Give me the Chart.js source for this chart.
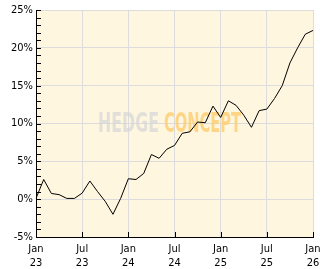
<!DOCTYPE html>
<html>
<head>
<meta charset="utf-8">
<script src="https://cdn.jsdelivr.net/npm/chart.js@4"></script>
<style>
    html, body { margin: 0; padding: 0; background: #fff; }
    #perfChart { display: block; }
</style>
</head>
<body>
<canvas id="perfChart" width="332" height="269"></canvas>
<script>
const monthNames = ['Jan', 'Feb', 'Mar', 'Apr', 'May', 'Jun', 'Jul', 'Aug', 'Sep', 'Oct', 'Nov', 'Dec'];
const years = ['23', '24', '25', '26'];

// cumulative performance, %, one point per month from Jan 23 to Jan 26
const performance = [
    0.1, 2.6, 0.75, 0.6, 0.1, 0.1, 0.8, 2.4, 1.0, -0.3, -2.0, 0.1,
    2.7, 2.6, 3.4, 5.9, 5.4, 6.6, 7.1, 8.7, 8.9, 10.2, 10.1, 12.3,
    10.8, 13.0, 12.4, 11.1, 9.5, 11.7, 11.9, 13.3, 15.0, 18.0, 20.0, 21.8,
    22.3
];

const yTicks = [-5, 0, 5, 10, 15, 20, 25];
const yMinorStep = 1;
const xLabelEvery = 6;

const months = performance.map((v, i) => monthNames[i % 12] + ' ' + years[Math.floor(i / 12)]);

const tickFont = { family: "'Liberation Sans Narrow', 'DejaVu Sans Condensed', 'Liberation Sans'", size: 11, lineHeight: 1.2 };

// cream plot background
const plotBackground = {
    id: 'plotBackground',
    beforeDraw(chart) {
        const { ctx, chartArea } = chart;
        ctx.save();
        ctx.fillStyle = '#fff6df';
        ctx.fillRect(chartArea.left, chartArea.top, chartArea.right - chartArea.left, chartArea.bottom - chartArea.top);
        ctx.restore();
    }
};

// HEDGE CONCEPT watermark, under the line
const watermark = {
    id: 'watermark',
    beforeDatasetsDraw(chart) {
        const { ctx, chartArea } = chart;
        const cx = (chartArea.left + chartArea.right) / 2 - 5;
        const cy = (chartArea.top + chartArea.bottom) / 2 + 1;
        ctx.save();
        ctx.font = "bold 27px 'Liberation Sans Narrow', 'DejaVu Sans Condensed', 'Liberation Sans'";
        ctx.textBaseline = 'middle';
        const w1 = ctx.measureText('HEDGE').width;
        const w2 = ctx.measureText('CONCEPT').width;
        const target1 = 61, target2 = 77, gap = 5;
        const total = target1 + gap + target2;
        const x0 = cx - total / 2;

        ctx.save();
        ctx.translate(x0, cy);
        ctx.scale(target1 / w1, 1);
        ctx.fillStyle = 'rgba(215, 215, 215, 0.75)';
        ctx.fillText('HEDGE', 0, 0);
        ctx.restore();

        ctx.save();
        ctx.translate(x0 + target1 + gap, cy);
        ctx.scale(target2 / w2, 1);
        ctx.fillStyle = 'rgba(253, 205, 110, 0.8)';
        ctx.fillText('CONCEPT', 0, 0);
        ctx.restore();

        ctx.restore();
    }
};

// ticks pointing into the plot, with minor ticks on the y axis
const innerTicks = {
    id: 'innerTicks',
    afterDatasetsDraw(chart) {
        const { ctx, chartArea, scales } = chart;
        ctx.save();
        ctx.strokeStyle = '#000';
        ctx.lineWidth = 1;
        ctx.beginPath();
        for (let v = yTicks[0]; v <= yTicks[yTicks.length - 1]; v += yMinorStep) {
            const y = Math.round(scales.y.getPixelForValue(v)) + 0.5;
            ctx.moveTo(chartArea.left, y);
            ctx.lineTo(chartArea.left + 5, y);
        }
        months.forEach((m, i) => {
            if (i % xLabelEvery !== 0) return;
            const x = Math.round(scales.x.getPixelForValue(i)) + 0.5;
            ctx.moveTo(x, chartArea.bottom);
            ctx.lineTo(x, chartArea.bottom - 5);
        });
        ctx.stroke();
        ctx.restore();
    }
};

const context = document.getElementById('perfChart').getContext('2d');

new Chart(context, {
    type: 'line',
    data: {
        labels: months,
        datasets: [{
            data: performance,
            borderColor: '#000',
            borderWidth: 1,
            pointRadius: 0,
            tension: 0,
            fill: false
        }]
    },
    options: {
        responsive: false,
        animation: false,
        events: [],
        layout: { padding: { top: 10, right: 19, left: 0, bottom: 0 } },
        plugins: {
            legend: { display: false },
            tooltip: { enabled: false }
        },
        scales: {
            x: {
                type: 'category',
                offset: false,
                afterFit(scale) { scale.height = 32; },
                grid: { color: '#dcdcdc', drawTicks: false },
                border: { color: '#000' },
                ticks: {
                    autoSkip: false,
                    maxRotation: 0,
                    padding: 6,
                    color: '#000',
                    font: tickFont,
                    callback(value, index) {
                        if (index % xLabelEvery !== 0) return null;
                        return months[index].split(' ');
                    }
                }
            },
            y: {
                min: yTicks[0],
                max: yTicks[yTicks.length - 1],
                afterFit(scale) { scale.width = 36; },
                afterBuildTicks(scale) { scale.ticks = yTicks.map(v => ({ value: v })); },
                grid: { color: '#dcdcdc', drawTicks: false },
                border: { color: '#000' },
                ticks: {
                    padding: 3,
                    color: '#000',
                    font: tickFont,
                    callback: v => v + '%'
                }
            }
        }
    },
    plugins: [plotBackground, watermark, innerTicks]
});
</script>
</body>
</html>
